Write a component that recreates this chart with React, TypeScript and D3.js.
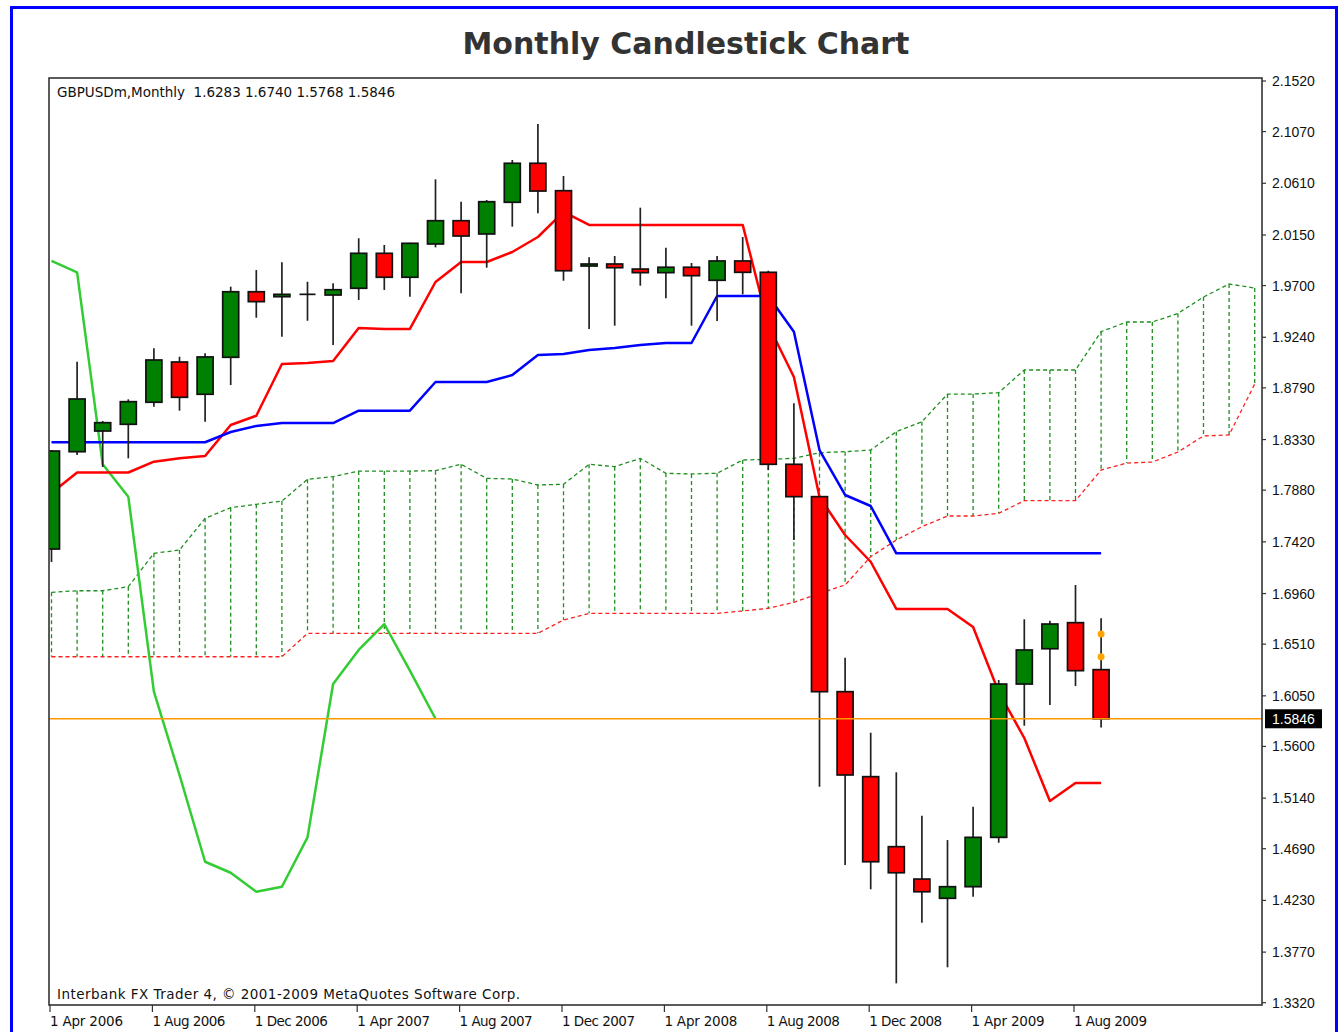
import React from 'react';
import * as d3 from 'd3';

// ---------- data ----------
const months = [
  'Apr 2006','May 2006','Jun 2006','Jul 2006','Aug 2006','Sep 2006','Oct 2006','Nov 2006','Dec 2006',
  'Jan 2007','Feb 2007','Mar 2007','Apr 2007','May 2007','Jun 2007','Jul 2007','Aug 2007','Sep 2007',
  'Oct 2007','Nov 2007','Dec 2007','Jan 2008','Feb 2008','Mar 2008','Apr 2008','May 2008','Jun 2008',
  'Jul 2008','Aug 2008','Sep 2008','Oct 2008','Nov 2008','Dec 2008','Jan 2009','Feb 2009','Mar 2009',
  'Apr 2009','May 2009','Jun 2009','Jul 2009','Aug 2009','Sep 2009'
];
const futureMonths = ['Oct 2009','Nov 2009','Dec 2009','Jan 2010','Feb 2010','Mar 2010'];

const opens = [1.7356,1.8222,1.8406,1.8466,1.8662,1.9020,1.8733,1.9062,1.9645,1.9601,1.9622,1.9616,1.9676,1.9987,1.9774,2.0070,2.0277,2.0159,2.0441,2.0788,2.0544,1.9874,1.9892,1.9847,1.9815,1.9863,1.9747,1.9919,1.9818,1.8110,1.7822,1.6087,1.5331,1.4708,1.4420,1.4249,1.4352,1.4791,1.6155,1.6469,1.6701,1.6283];
const highs = [1.8237,1.9023,1.8495,1.8688,1.9142,1.9067,1.9097,1.9690,1.9838,1.9907,1.9734,1.9720,2.0121,2.0061,2.0080,2.0645,2.0446,2.0461,2.0817,2.1137,2.0675,1.9952,1.9963,2.0393,2.0037,1.9901,1.9963,2.0132,1.9832,1.8653,1.7828,1.6389,1.5722,1.5370,1.4984,1.4767,1.5064,1.6191,1.6731,1.6718,1.7036,1.6740];
const lows = [1.7241,1.8193,1.8086,1.8163,1.8622,1.8587,1.8489,1.8815,1.9414,1.9245,1.9387,1.9171,1.9572,1.9661,1.9601,2.0040,1.9631,1.9859,2.0224,2.0343,1.9743,1.9314,1.9343,1.9699,1.9587,1.9343,1.9385,1.9622,1.8059,1.7436,1.5242,1.4545,1.4329,1.3492,1.4032,1.3635,1.4263,1.4743,1.5784,1.5968,1.6137,1.5768];
const closes = [1.8228,1.8691,1.8480,1.8667,1.9038,1.8706,1.9065,1.9645,1.9557,1.9622,1.9622,1.9663,1.9987,1.9774,2.0076,2.0277,2.0141,2.0446,2.0788,2.0541,1.9832,1.9892,1.9859,1.9815,1.9863,1.9788,1.9919,1.9818,1.8110,1.7822,1.6087,1.5346,1.4574,1.4476,1.4307,1.4352,1.4791,1.6155,1.6458,1.6689,1.6274,1.5846];

// Ichimoku lines
const tenkan = [1.7855,1.8037,1.8037,1.8037,1.8133,1.8163,1.8184,1.8460,1.8542,1.9002,1.9011,1.9029,1.9322,1.9314,1.9314,1.9732,1.9910,1.9910,1.9999,2.0132,2.0355,2.0240,2.0240,2.0240,2.0240,2.0240,2.0240,2.0240,1.9349,1.8887,1.7819,1.7481,1.7243,1.6823,1.6823,1.6823,1.6662,1.6084,1.5675,1.5114,1.5274,1.5274];
const kijun = [1.8306,1.8306,1.8306,1.8306,1.8306,1.8306,1.8306,1.8397,1.8451,1.8477,1.8477,1.8477,1.8587,1.8587,1.8587,1.8842,1.8842,1.8842,1.8904,1.9082,1.9091,1.9127,1.9145,1.9171,1.9189,1.9189,1.9607,1.9607,1.9607,1.9290,1.8237,1.7837,1.7739,1.7318,1.7318,1.7318,1.7318,1.7318,1.7318,1.7318,1.7318,1.7318];
const spanA = [1.6971,1.6985,1.6985,1.7021,1.7318,1.7347,1.7629,1.7724,1.7754,1.7783,1.7976,1.8000,1.8050,1.8050,1.8050,1.8053,1.8110,1.7985,1.7979,1.7926,1.7932,1.8110,1.8089,1.8163,1.8030,1.8024,1.8030,1.8148,1.8154,1.8163,1.8213,1.8222,1.8237,1.8400,1.8489,1.8735,1.8735,1.8747,1.8949,1.8949,1.8949,1.9290,1.9376,1.9376,1.9452,1.9598,1.9714,1.9678];
const spanB = [1.6398,1.6398,1.6398,1.6398,1.6398,1.6398,1.6398,1.6398,1.6398,1.6398,1.6606,1.6606,1.6606,1.6606,1.6606,1.6606,1.6606,1.6606,1.6606,1.6606,1.6725,1.6784,1.6784,1.6784,1.6784,1.6784,1.6784,1.6805,1.6829,1.6882,1.6962,1.7036,1.7288,1.7436,1.7555,1.7650,1.7650,1.7674,1.7786,1.7786,1.7786,1.8059,1.8121,1.8130,1.8219,1.8362,1.8371,1.8824];
const chikou = [1.9919,1.9818,1.8110,1.7822,1.6087,1.5346,1.4574,1.4476,1.4307,1.4352,1.4791,1.6155,1.6458,1.6689,1.6274,1.5846];

const markerValues = [1.6600, 1.6398];
const lastPrice = 1.5846;

const yTickValues = [2.1520,2.1070,2.0610,2.0150,1.9700,1.9240,1.8790,1.8330,1.7880,1.7420,1.6960,1.6510,1.6050,1.5600,1.5140,1.4690,1.4230,1.3770,1.3320];
const xTickIndices = [0,4,8,12,16,20,24,28,32,36,40];
const xTickLabels = ['1 Apr 2006','1 Aug 2006','1 Dec 2006','1 Apr 2007','1 Aug 2007','1 Dec 2007','1 Apr 2008','1 Aug 2008','1 Dec 2008','1 Apr 2009','1 Aug 2009'];

const headerText = 'GBPUSDm,Monthly  1.6283 1.6740 1.5768 1.5846';
const footerText = 'Interbank FX Trader 4, \u00A9 2001-2009 MetaQuotes Software Corp.';

// ---------- layout ----------
const W = 1340;
const H = 1032;
const PL = 49, PT = 78, PR = 1262, PB = 1005;
const AXIS_FONT = "Tahoma, 'Liberation Sans', Arial, sans-serif";
const INFO_FONT = "Tahoma, 'DejaVu Sans', Verdana, sans-serif";

export default function App() {
  const nAll = months.length + futureMonths.length; // 48
  const x = d3.scaleLinear().domain([0, nAll - 1]).range([51.5, 51.5 + 25.6 * (nAll - 1)]);
  const y = d3.scaleLinear().domain([1.332, 2.152]).range([1002.7, 81]);

  const line = d3.line<number>().x((_, i) => x(i)).y((d) => y(d));
  const bodyW = 16;

  return (
    <div style={{ position: 'absolute', left: 0, top: 0, width: W, height: H, background: '#fff' }}>
      <svg width={W} height={H} style={{ display: 'block' }}>
        <defs>
          <clipPath id="plotClip">
            <rect x={PL} y={PT} width={PR - PL} height={PB - PT} />
          </clipPath>
        </defs>
        <rect x={0} y={0} width={W} height={H} fill="#fff" />
        {/* blue page frame */}
        <rect x={11.5} y={7.5} width={1325} height={1045} fill="none" stroke="#0000ff" strokeWidth={3} />

        {/* title */}
        <text x={686} y={54} textAnchor="middle" fontFamily="'DejaVu Sans', Verdana, sans-serif" fontWeight="bold" fontSize={30} fill="#333">
          Monthly Candlestick Chart
        </text>

        <g clipPath="url(#plotClip)">
          {/* cloud hatching */}
          {spanA.map((a, i) => (
            <line key={'v' + i} x1={x(i)} x2={x(i)} y1={y(a)} y2={y(spanB[i])} stroke="#1f8f1f" strokeWidth={1.3} strokeDasharray="4,3" />
          ))}
          <path d={line(spanA) || ''} fill="none" stroke="#1f8f1f" strokeWidth={1.3} strokeDasharray="4,3" />
          <path d={line(spanB) || ''} fill="none" stroke="#ff2020" strokeWidth={1.3} strokeDasharray="4,3" />

          {/* chikou */}
          <path d={line(chikou) || ''} fill="none" stroke="#33cc33" strokeWidth={2.5} strokeLinejoin="round" />
          {/* tenkan */}
          <path d={line(tenkan) || ''} fill="none" stroke="#ff0000" strokeWidth={2.5} strokeLinejoin="round" />
          {/* kijun */}
          <path d={line(kijun) || ''} fill="none" stroke="#0000ff" strokeWidth={2.5} strokeLinejoin="round" />

          {/* candles */}
          {opens.map((o, i) => {
            const c = closes[i];
            const cx = x(i);
            const top = y(Math.max(o, c));
            const bot = y(Math.min(o, c));
            const up = c > o;
            return (
              <g key={'c' + i}>
                <line x1={cx} x2={cx} y1={y(highs[i])} y2={y(lows[i])} stroke="#222" strokeWidth={1.7} />
                {o === c ? (
                  <line x1={cx - bodyW / 2} x2={cx + bodyW / 2} y1={top} y2={top} stroke="#111" strokeWidth={1.7} />
                ) : (
                  <rect x={cx - bodyW / 2} y={top} width={bodyW} height={Math.max(bot - top, 1)} fill={up ? '#008000' : '#ff0000'} stroke="#111" strokeWidth={1.7} />
                )}
              </g>
            );
          })}

          {/* last price line */}
          <line x1={PL} x2={PR} y1={y(lastPrice)} y2={y(lastPrice)} stroke="#ff9900" strokeWidth={1.6} />

          {/* orange markers on last bar */}
          {markerValues.map((v, k) => (
            <circle key={'m' + k} cx={x(months.length - 1)} cy={y(v)} r={3.5} fill="#ffa500" />
          ))}
        </g>

        {/* plot frame */}
        <rect x={PL} y={PT} width={PR - PL} height={PB - PT} fill="none" stroke="#333" strokeWidth={1.6} />

        {/* header & footer text */}
        <text x={57} y={97} fontFamily={INFO_FONT} fontSize={13.5} fill="#111" style={{ whiteSpace: 'pre' }} textLength={338} lengthAdjust="spacing">{headerText}</text>
        <text x={57} y={999} fontFamily={INFO_FONT} fontSize={13.5} fill="#111" textLength={463} lengthAdjust="spacing">{footerText}</text>

        {/* right price axis */}
        {yTickValues.map((v) => (
          <g key={'yt' + v}>
            <line x1={PR} x2={PR + 4} y1={y(v)} y2={y(v)} stroke="#333" strokeWidth={1.2} />
            <text x={1272} y={y(v) + 5} fontFamily={AXIS_FONT} fontSize={14} fill="#111">{v.toFixed(4)}</text>
          </g>
        ))}
        <rect x={1265} y={y(lastPrice) - 9.5} width={57} height={19} fill="#000" />
        <text x={1272} y={y(lastPrice) + 5} fontFamily={AXIS_FONT} fontSize={14} fill="#fff">{lastPrice.toFixed(4)}</text>

        {/* bottom time axis */}
        {xTickIndices.map((idx, k) => (
          <g key={'xt' + idx}>
            <line x1={x(idx) - 1.5} x2={x(idx) - 1.5} y1={PB} y2={PB + 7} stroke="#333" strokeWidth={1.2} />
            <text x={x(idx) - 1.5} y={1026} fontFamily={INFO_FONT} fontSize={13.5} fill="#111" textLength={73} lengthAdjust="spacing">{xTickLabels[k]}</text>
          </g>
        ))}
      </svg>
    </div>
  );
}
